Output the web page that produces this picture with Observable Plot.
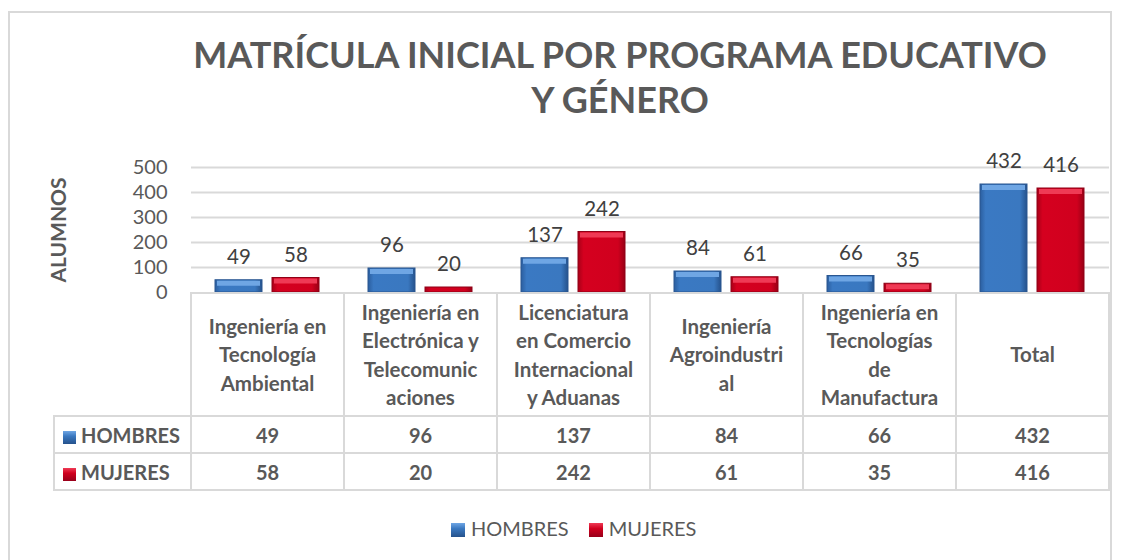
<!DOCTYPE html>
<html><head><meta charset="utf-8">
<script src="https://cdn.jsdelivr.net/npm/d3@7"></script>
<script src="https://cdn.jsdelivr.net/npm/@observablehq/plot@0.6"></script>
<style>
body{margin:0;background:#fff;font-family:Lato,"Open Sans",sans-serif;color:#595959;}
#wrap{position:relative;width:1123px;height:560px;overflow:hidden;background:#fff;}
#frame{position:absolute;left:8px;top:11px;width:1104px;height:560px;border:2px solid #d9d9d9;box-sizing:border-box;}
#title{position:absolute;left:120px;width:1000px;top:32px;text-align:center;font-weight:bold;font-size:36px;line-height:45px;color:#595959;}
#ylab{position:absolute;left:57px;top:230px;transform:translate(-50%,-50%) rotate(-90deg);font-weight:bold;font-size:21px;white-space:nowrap;}
#chart{position:absolute;left:0;top:0;}
#tbl{position:absolute;left:53px;top:292px;border-collapse:collapse;table-layout:fixed;}
#tbl td{border:2px solid #d9d9d9;text-align:center;font-weight:bold;font-size:20px;color:#595959;padding:0;}
#tbl tr.h td{height:121px;line-height:28.5px;font-size:20.5px;}
#tbl tr.r td{height:35px;}
#tbl td.blank{border:none;}
#tbl td.lab{text-align:left;padding-left:8px;white-space:nowrap;}
.sw{display:inline-block;width:13px;height:13px;margin-right:5px;vertical-align:-1px;}
#legend{position:absolute;top:516px;left:451px;white-space:nowrap;font-size:20px;color:#595959;}
#legend .sw{width:14px;height:14px;margin-right:6px;}
#legend span.it{margin-right:20px;}
</style></head>
<body><div id="wrap">
<div id="frame"></div>
<div id="title">MATRÍCULA INICIAL POR PROGRAMA EDUCATIVO<br>Y GÉNERO</div>
<div id="chart"></div>
<div id="ylab">ALUMNOS</div>
<table id="tbl"></table>
<div id="legend"></div>
</div>
<script>
const categories = ["Ingeniería en Tecnología Ambiental","Ingeniería en Electrónica y Telecomunicaciones","Licenciatura en Comercio Internacional y Aduanas","Ingeniería Agroindustrial","Ingeniería en Tecnologías de Manufactura","Total"];
const headerLines = [["Ingeniería en","Tecnología","Ambiental"],["Ingeniería en","Electrónica y","Telecomunic","aciones"],["Licenciatura","en Comercio","Internacional","y Aduanas"],["Ingeniería","Agroindustri","al"],["Ingeniería en","Tecnologías","de","Manufactura"],["Total"]];
const series = ["HOMBRES","MUJERES"];
const hombres = [49,96,137,84,66,432];
const mujeres = [58,20,242,61,35,416];
const yTicks = [0,100,200,300,400,500];
const seriesValues = [hombres, mujeres];

const data = categories.flatMap((c,i)=>series.map((s,j)=>({cat:c, serie:s, value:seriesValues[j][i]})));

const plot = Plot.plot({
  width:1123, height:300,
  marginTop:167, marginBottom:8, marginLeft:190, marginRight:14,
  style:{fontFamily:"Lato, 'Open Sans', sans-serif", fontSize:"20px", color:"#595959", background:"transparent", overflow:"visible"},
  fx:{domain:categories, padding:0, axis:null},
  x:{domain:series, paddingInner:0.172, paddingOuter:0.405, axis:null},
  y:{domain:[0,500], ticks:yTicks, tickSize:0, tickPadding:24, label:null, tickFormat:d=>String(d)},
  color:{type:"ordinal", domain:series, range:["url(#gH)","url(#gM)"]},
  marks:[
    Plot.ruleY(yTicks.filter(d=>d>0), {stroke:"#d9d9d9", strokeWidth:2}),
    Plot.barY(data.filter(d=>d.serie==="HOMBRES"), {fx:"cat", x:"serie", y:"value", fill:"serie", stroke:"#2a5690", strokeWidth:1}),
    Plot.barY(data.filter(d=>d.serie==="MUJERES"), {fx:"cat", x:"serie", y:"value", fill:"serie", stroke:"#8f0016", strokeWidth:1}),
    Plot.tickY(data.filter(d=>d.serie==="HOMBRES" && d.value>=30), {fx:"cat", x:"serie", y:"value", stroke:"#6fa6e4", strokeWidth:5, dy:3, inset:2}),
    Plot.tickY(data.filter(d=>d.serie==="MUJERES" && d.value>=30), {fx:"cat", x:"serie", y:"value", stroke:"#ef3a55", strokeWidth:5, dy:3, inset:2}),
    Plot.text(data, {fx:"cat", x:"serie", y:"value", text:d=>String(d.value), dy:-23, fill:"#404040", fontSize:20.5})
  ]
});
document.getElementById("chart").appendChild(plot);
const svg = d3.select(plot);
const defs = svg.insert("defs", ":first-child");
function grad(id, stops){
  const g = defs.append("linearGradient").attr("id", id).attr("x1","0").attr("x2","1").attr("y1","0").attr("y2","0");
  stops.forEach(([o,c])=>g.append("stop").attr("offset",o).attr("stop-color",c));
}
grad("gH", [["0%","#2b5e9f"],["12%","#3a79c3"],["85%","#3a78c0"],["100%","#25528c"]]);
grad("gM", [["0%","#a90018"],["12%","#d5001f"],["85%","#d0001e"],["100%","#980015"]]);

// table
const swColors = {HOMBRES:"linear-gradient(180deg,#6fa6e4 0%,#3a78c0 40%,#25528c 100%)", MUJERES:"linear-gradient(180deg,#ef3a55 0%,#d0001e 40%,#98001a 100%)"};
const tbl = d3.select("#tbl");
const cg = tbl.append("colgroup");
cg.append("col").style("width","137px");
categories.forEach(()=>cg.append("col").style("width","153px"));
const hr = tbl.append("tr").attr("class","h");
hr.append("td").attr("class","blank");
headerLines.forEach(lines=>hr.append("td").html(lines.join("<br>")));
series.forEach((s,j)=>{
  const r = tbl.append("tr").attr("class","r");
  r.append("td").attr("class","lab").html(`<span class="sw" style="background:${swColors[s]}"></span>${s}`);
  seriesValues[j].forEach(v=>r.append("td").text(v));
});
// legend
const lg = d3.select("#legend");
series.forEach(s=>lg.append("span").attr("class","it").html(`<span class="sw" style="background:${swColors[s]}"></span>${s}`));
</script>
</body></html>
